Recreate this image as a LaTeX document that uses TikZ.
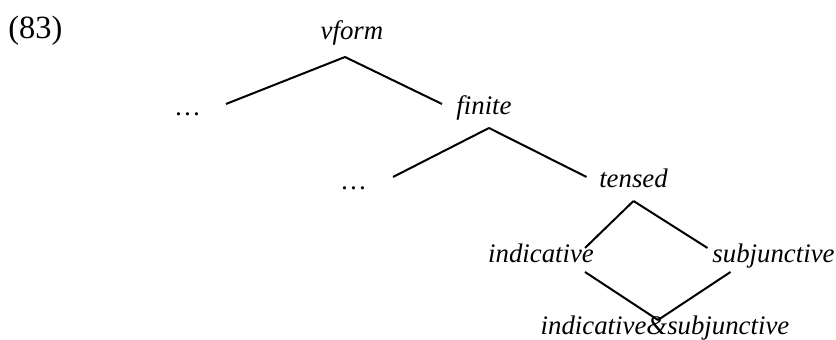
\documentclass[tikz,border=0pt]{standalone}
\usepackage{fontspec}
\setmainfont{Liberation Serif}
\usepackage{tikz}
\tikzset{
  typenode/.style={font=\fontsize{13.4}{15}\selectfont\itshape, anchor=base, inner sep=0pt},
  exnum/.style={font=\fontsize{16.2}{18}\selectfont, anchor=base west, inner sep=0pt},
  branch/.style={line width=1pt}
}

\begin{document}
\begin{tikzpicture}[x=0.5pt, y=-0.5pt]
  \useasboundingbox (0,0) rectangle (836,340);
  \node[exnum] (num) at (8,39) {(83)};
  \node[typenode] (vform) at (352,40) {vform};
  \node[typenode] (dotsa) at (188,116) {\dots};
  \node[typenode] (finite) at (484,115) {finite};
  \node[typenode] (dotsb) at (354,190) {\dots};
  \node[typenode] (tensed) at (633.5,188) {tensed};
  \node[typenode] (indic) at (541,263) {indicative};
  \node[typenode] (subj) at (773.5,263) {subjunctive};
  \node[typenode] (both) at (665,335) {indicative\&subjunctive};

  \draw[branch] ([shift={(-7,17)}]vform.base) -- ([shift={(38,-12)}]dotsa.base);
  \draw[branch] ([shift={(-7,17)}]vform.base) -- ([shift={(-42,-11)}]finite.base);
  \draw[branch] ([shift={(5,13)}]finite.base) -- ([shift={(39,-13)}]dotsb.base);
  \draw[branch] ([shift={(5,13)}]finite.base) -- ([shift={(-47,-11)}]tensed.base);
  \draw[branch] ([shift={(0,13)}]tensed.base) -- ([shift={(44,-15)}]indic.base);
  \draw[branch] ([shift={(0,13)}]tensed.base) -- ([shift={(-66,-15)}]subj.base);
  \draw[branch] ([shift={(44,9)}]indic.base) -- ([shift={(-7,-15)}]both.base);
  \draw[branch] ([shift={(-43,9)}]subj.base) -- ([shift={(-7,-15)}]both.base);
\end{tikzpicture}
\end{document}
